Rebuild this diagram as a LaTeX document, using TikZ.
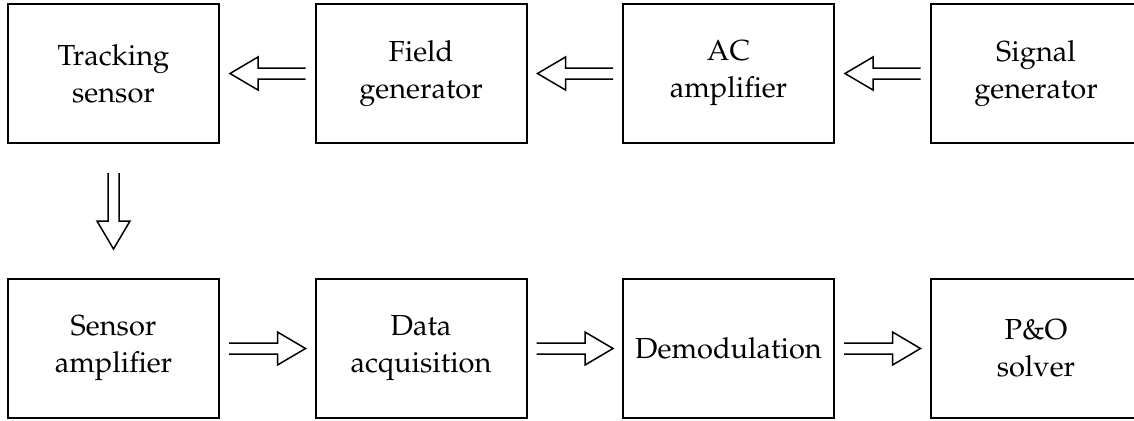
\documentclass[tikz,border=0pt]{standalone}
\usepackage[T1]{fontenc}
\usepackage{mathpazo}
\usetikzlibrary{positioning,calc}
\newcommand{\arrshaft}{2.75pt}
\newcommand{\arrhead}{8.25pt}
\newcommand{\arrlen}{14pt}
\tikzset{
    block/.style={draw,line width=1pt,minimum width=105.5pt,minimum height=69.5pt,
        align=center,inner sep=2pt,outer sep=0pt,font=\fontsize{14.5}{18.5}\selectfont},
    hollow/.style={draw,line width=0.75pt,line join=miter,to path={
        ($(\tikztotarget)!\arrlen!(\tikztostart)$) coordinate (hb)
        ($(\tikztostart)!\arrshaft!90:(\tikztotarget)$)
        -- ($(hb)!\arrshaft!-90:(\tikztostart)$)
        -- ($(hb)!\arrhead!-90:(\tikztostart)$)
        -- (\tikztotarget)
        -- ($(hb)!\arrhead!90:(\tikztostart)$)
        -- ($(hb)!\arrshaft!90:(\tikztostart)$)
        -- ($(\tikztostart)!\arrshaft!-90:(\tikztotarget)$)}},
}
\begin{document}
\begin{tikzpicture}[node distance=48.25pt]
    \useasboundingbox (0,0) rectangle (567pt,210pt);
    \clip (0,0) rectangle (567pt,210pt);
    % top row, signal chain runs right to left
    \node[block] (ts) at (56.75pt,173.25pt) {Tracking\\sensor};
    \node[block,right=of ts] (fg) {Field\\generator};
    \node[block,right=of fg] (ac) {AC\\amplifier};
    \node[block,right=of ac] (sg) {Signal\\generator};
    % bottom row
    \node[block,below=68pt of ts] (sa) {Sensor\\amplifier};
    \node[block,right=of sa] (da) {Data\\acquisition};
    \node[block,right=of da] (dm) {Demodulation};
    \node[block,right=of dm] (po) {P\&O\\solver};

    % arrow ends
    \coordinate[right=5.5pt of ts] (ts-in);
    \coordinate[left=5pt of fg] (fg-out);
    \coordinate[right=5.5pt of fg] (fg-in);
    \coordinate[left=5pt of ac] (ac-out);
    \coordinate[right=5.5pt of ac] (ac-in);
    \coordinate[left=5pt of sg] (sg-out);
    \coordinate[below=15pt of ts] (ts-out);
    \coordinate[above=15pt of sa] (sa-in);
    \coordinate[right=5pt of sa] (sa-out);
    \coordinate[left=5pt of da] (da-in);
    \coordinate[right=5pt of da] (da-out);
    \coordinate[left=5pt of dm] (dm-in);
    \coordinate[right=5pt of dm] (dm-out);
    \coordinate[left=5pt of po] (po-in);

    \draw[hollow] (fg-out) to (ts-in);
    \draw[hollow] (ac-out) to (fg-in);
    \draw[hollow] (sg-out) to (ac-in);
    \draw[hollow] (ts-out) to (sa-in);
    \draw[hollow] (sa-out) to (da-in);
    \draw[hollow] (da-out) to (dm-in);
    \draw[hollow] (dm-out) to (po-in);
\end{tikzpicture}
\end{document}
